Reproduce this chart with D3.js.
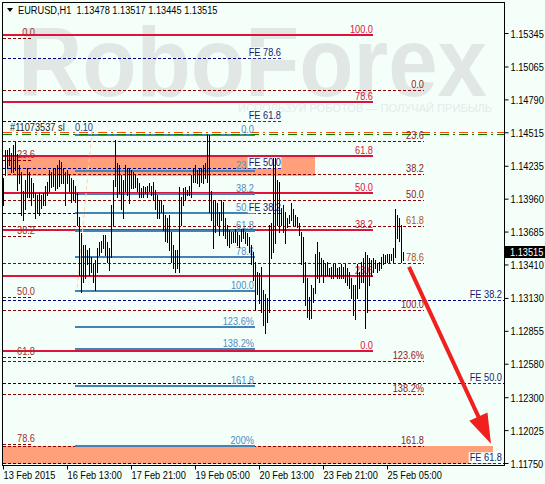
<!DOCTYPE html>
<html><head><meta charset="utf-8">
<script src="https://cdn.jsdelivr.net/npm/d3@7"></script>
<style>
html,body{margin:0;padding:0;background:#f5fffa;}
svg{display:block;}
text{font-family:'Liberation Sans',Arial,sans-serif;font-size:11px;}
</style></head><body>
<svg id="c" width="545" height="484"></svg>
<script>
// ---------- DATA ----------
const symbol = "EURUSD,H1";
const ohlcLast = [1.13478, 1.13517, 1.13445, 1.13515];
const lastPrice = 1.13515;

const highs = [
1.1413,1.1437,1.1437,1.1438,1.1434,1.1441,1.1443,1.1433,1.1424,1.1418,
1.1402,1.1412,1.1422,1.1418,1.1413,1.1409,1.1401,1.1399,1.1401,1.1399,
1.1401,1.1407,1.1410,1.1420,1.1418,1.1422,1.1422,1.1424,1.1428,1.1427,
1.1422,1.1418,1.1420,1.1416,1.1413,1.1412,1.1407,1.1401,1.1381,1.1367,
1.1357,1.1357,1.1353,1.1355,1.1347,1.1341,1.1345,1.1355,1.1360,1.1361,
1.1366,1.1366,1.1360,1.1355,1.1391,1.1412,1.1445,1.1426,1.1424,1.1416,
1.1412,1.1424,1.1422,1.1422,1.1420,1.1418,1.1417,1.1413,1.1409,1.1405,
1.1407,1.1406,1.1407,1.1409,1.1407,1.1410,1.1403,1.1399,1.1395,1.1395,
1.1391,1.1382,1.1380,1.1382,1.1368,1.1357,1.1353,1.1353,1.1406,1.1397,
1.1405,1.1406,1.1403,1.1407,1.1416,1.1422,1.1424,1.1420,1.1422,1.1422,
1.1424,1.1426,1.1449,1.1449,1.1402,1.1395,1.1395,1.1392,1.1385,1.1395,
1.1393,1.1380,1.1374,1.1370,1.1368,1.1368,1.1371,1.1368,1.1366,1.1371,
1.1371,1.1368,1.1367,1.1364,1.1357,1.1351,1.1343,1.1335,1.1334,1.1339,
1.1320,1.1316,1.1313,1.1374,1.1376,1.1430,1.1430,1.1412,1.1410,1.1388,
1.1391,1.1385,1.1380,1.1382,1.1392,1.1387,1.1382,1.1381,1.1376,1.1368,
1.1364,1.1343,1.1330,1.1314,1.1324,1.1321,1.1350,1.1360,1.1351,1.1346,
1.1345,1.1341,1.1343,1.1338,1.1339,1.1341,1.1341,1.1338,1.1339,1.1341,
1.1339,1.1341,1.1338,1.1335,1.1330,1.1324,1.1324,1.1341,1.1335,1.1343,
1.1346,1.1351,1.1349,1.1346,1.1345,1.1346,1.1345,1.1342,1.1343,1.1347,
1.1350,1.1349,1.1350,1.1350,1.1350,1.1355,1.1387,1.1382,1.1380,1.1374,
1.13517];
const lows = [
1.1391,1.1416,1.1422,1.1424,1.1418,1.1418,1.1420,1.1403,1.1409,1.1382,
1.1378,1.1387,1.1397,1.1397,1.1391,1.1397,1.1380,1.1384,1.1382,1.1388,
1.1391,1.1391,1.1399,1.1402,1.1406,1.1407,1.1403,1.1405,1.1407,1.1409,
1.1409,1.1391,1.1409,1.1402,1.1393,1.1395,1.1393,1.1374,1.1332,1.1318,
1.1326,1.1330,1.1341,1.1332,1.1335,1.1326,1.1320,1.1335,1.1349,1.1351,
1.1355,1.1349,1.1343,1.1336,1.1347,1.1374,1.1407,1.1397,1.1401,1.1387,
1.1380,1.1402,1.1399,1.1392,1.1405,1.1405,1.1406,1.1402,1.1397,1.1397,
1.1397,1.1401,1.1397,1.1402,1.1399,1.1395,1.1387,1.1380,1.1380,1.1385,
1.1370,1.1361,1.1360,1.1353,1.1343,1.1338,1.1335,1.1338,1.1335,1.1374,
1.1391,1.1395,1.1399,1.1399,1.1397,1.1410,1.1410,1.1409,1.1407,1.1410,
1.1409,1.1413,1.1410,1.1385,1.1378,1.1355,1.1368,1.1374,1.1366,1.1378,
1.1366,1.1363,1.1357,1.1356,1.1359,1.1360,1.1360,1.1357,1.1356,1.1361,
1.1363,1.1359,1.1357,1.1351,1.1341,1.1328,1.1303,1.1316,1.1309,1.1301,
1.1290,1.1284,1.1293,1.1301,1.1346,1.1351,1.1359,1.1374,1.1368,1.1374,
1.1368,1.1359,1.1372,1.1376,1.1378,1.1374,1.1374,1.1372,1.1366,1.1341,
1.1326,1.1307,1.1297,1.1295,1.1296,1.1310,1.1317,1.1330,1.1326,1.1332,
1.1326,1.1331,1.1332,1.1331,1.1330,1.1330,1.1331,1.1330,1.1330,1.1330,
1.1330,1.1326,1.1324,1.1321,1.1313,1.1299,1.1295,1.1313,1.1321,1.1326,
1.1326,1.1288,1.1301,1.1324,1.1331,1.1335,1.1338,1.1335,1.1336,1.1338,
1.1341,1.1342,1.1343,1.1343,1.1345,1.1343,1.1347,1.1363,1.1361,1.1343,
1.13445];

const xTickIdx = [0, 32, 64, 96, 128, 160, 192];
const xTickLabels = ["13 Feb 2015","16 Feb 13:00","17 Feb 21:00","19 Feb 05:00","20 Feb 13:00","23 Feb 21:00","25 Feb 05:00"];
const yTicks = [1.15345,1.15065,1.14790,1.14515,1.14235,1.13960,1.13685,1.13410,1.13130,1.12855,1.12580,1.12300,1.12025,1.11750];

// Fibonacci retracement (solid red)
const redLevels = [1.1533,1.1477,1.1432,1.1401,1.1370,1.1331,1.1269];
const redLabels = ["100.0","78.6","61.8","50.0","38.2","23.6","0.0"];
const redSpan = [0, 185];
// short left fib (dashed)
const leftFibLevels = [1.1530,1.1428,1.1365,1.1314,1.1264,1.1191];
const leftFibLabels = ["0.0","23.6","38.2","50.0","61.8","78.6"];
const leftFibSpan = [0, 14];
// dashed dark-red fib
const dashRedLevels = [1.1487,1.1444,1.1417,1.1395,1.1373,1.1342,1.1303,1.1260,1.1233,1.1189];
const dashRedLabels = ["0.0","23.6","38.2","50.0","61.8","78.6","100.0","123.6%","138.2%","161.8"];
const dashRedColors = ["#8b1a1a","#8b1a1a","#8b1a1a","#8b1a1a","#b0521c","#b0521c","#8b1a1a","#8b1a1a","#8b1a1a","#8b1a1a"];
const dashRedSpan = [0, 210.5];
// blue fib
const blueLevels = [1.1449,1.1419,1.1400,1.1384,1.1369,1.1347,1.1319,1.1289,1.1270,1.1239,1.1189];
const blueLabels = ["0.0","23.6","38.2","50.0","61.8","78.6","100.0","123.6%","138.2%","161.8","200%"];
const blueSpan = [36, 126];
// Fibonacci expansions (navy dashed)
const feALevels = [1.1514,1.1461,1.1422,1.1384];
const feALabels = ["FE 78.6","FE 61.8","FE 50.0","FE 38.2"];
const feASpan = [0, 139];
const feBLevels = [1.1311,1.1242,1.1175];
const feBLabels = ["FE 38.2","FE 50.0","FE 61.8"];
const feBSpan = [0, 250.5];
// order lines
const orderOrange = 1.1452, orderGreen = 1.1450;
const orderText = "#11073537 sl", orderLot = "0.10";
// zones
const zoneTop = {i0: 2, i1: 156, p0: 1.1415, p1: 1.1431};
const zoneBottom = {i0: 0, i1: 245, p0: 1.11742, p1: 1.11892};
// trend line & arrow (bar index, price)
const trendPts = [[44.5, 1.1453], [37, 1.1319]];
const arrowPts = [[203, 1.1339], [244, 1.1191]];

// ---------- DRAW ----------
const svg = d3.select('#c');
const BG = '#f5fffa';
const S = 0.84; // horizontal squeeze for the narrow terminal font
function put(t, xx, yy){
  t.attr('x',0).attr('y',0).attr('transform',`translate(${xx},${yy}) scale(${S},1)`);
  return t;
}
svg.append('rect').attr('width',545).attr('height',484).attr('fill',BG);

const x = d3.scaleLinear().domain([0,200]).range([3,403]);
const y = d3.scaleLinear().domain([1.11750,1.15345]).range([463,33]);
const PL=3, PR=504, PT=3, PB=465;

svg.append('defs').append('clipPath').attr('id','clip')
  .append('rect').attr('x',PL).attr('y',PT).attr('width',PR-PL).attr('height',PB-PT);
const g = svg.append('g').attr('clip-path','url(#clip)');

// watermark
g.append('text').text('RoboForex').attr('x',18).attr('y',96)
  .attr('textLength',469).attr('lengthAdjust','spacingAndGlyphs')
  .style('font-weight','bold').style('font-size','98px').attr('fill','#e0e7e5');
g.append('text').text('ИСПОЛЬЗУЙ РОБОТОВ — ПОЛУЧАЙ ПРИБЫЛЬ').attr('x',238).attr('y',112)
  .attr('textLength',254).attr('lengthAdjust','spacingAndGlyphs')
  .style('font-size','10px').attr('fill','#e4ebea');

// zones
[zoneTop, zoneBottom].forEach(z => {
  g.append('rect').attr('x',x(z.i0)).attr('width',x(z.i1)-x(z.i0))
   .attr('y',y(z.p1)).attr('height',y(z.p0)-y(z.p1)).attr('fill','#ffa07a');
});

function hline(p, span, color, w, dash){
  const yy = w%2===1 ? Math.round(y(p))+0.5 : Math.round(y(p));
  const l = g.append('line').attr('x1',x(span[0])).attr('x2',x(span[1]))
    .attr('y1',yy).attr('y2',yy).attr('stroke',color).attr('stroke-width',w);
  if(dash) l.attr('stroke-dasharray',dash);
  return yy;
}

dashRedLevels.forEach(p => hline(p, dashRedSpan, '#8b0000', 1, '3,2'));
leftFibLevels.forEach(p => hline(p, leftFibSpan, '#8b0000', 1, '3,2'));
feALevels.forEach(p => hline(p, feASpan, '#000080', 1, '3,2'));
feBLevels.forEach(p => hline(p, feBSpan, '#000080', 1, '3,2'));
redLevels.forEach(p => hline(p, redSpan, '#dc143c', 2));
blueLevels.forEach(p => hline(p, blueSpan, '#4682b4', 2));
hline(orderOrange, feBSpan, '#ff4500', 1, '9,4,2,4');
const gl = hline(orderGreen, feBSpan, '#008000', 1, '9,4,2,4');

// trend line
g.append('line').attr('x1',x(trendPts[0][0])).attr('y1',y(trendPts[0][1]))
  .attr('x2',x(trendPts[1][0])).attr('y2',y(trendPts[1][1]))
  .attr('stroke','#ffd2a8').attr('stroke-width',1).attr('stroke-dasharray','4,3');

// labels
function label(txt, xx, yy, color, anchor, parent){
  const t = (parent||g).append('text').text(txt).attr('fill',color).attr('text-anchor',anchor||'end');
  return put(t, xx, yy);
}
redLevels.forEach((p,i) => label(redLabels[i], x(redSpan[1]), Math.round(y(p))-2, '#dc143c'));
leftFibLevels.forEach((p,i) => label(leftFibLabels[i], x(leftFibSpan[1])+4, Math.round(y(p))-2, '#a0302a'));
dashRedLevels.forEach((p,i) => label(dashRedLabels[i], x(dashRedSpan[1]), Math.round(y(p))-2, dashRedColors[i]));
blueLevels.forEach((p,i) => label(blueLabels[i], x(blueSpan[1])-1, Math.round(y(p))-2, '#4f8cc0'));
function feLabel(txt, xx, yy){
  const t = label(txt, xx, yy, '#1a1a70');
  const bb = t.node().getBBox();
  g.insert('rect', () => t.node()).attr('x',xx+bb.x*S-1).attr('y',yy+bb.y+1)
    .attr('width',bb.width*S+1).attr('height',bb.height-1).attr('fill',BG);
}
feALevels.forEach((p,i) => feLabel(feALabels[i], x(feASpan[1]), Math.round(y(p))-2));
feBLevels.forEach((p,i) => feLabel(feBLabels[i], PR-2, Math.round(y(p))-2));
label(orderText, x(3.5), gl-4, '#222', 'start');
label(orderLot, x(blueSpan[0]), gl-4, '#1a3a8a', 'start');

// bars
const bars = g.append('g');
highs.forEach((h,i) => {
  const xx = Math.round(x(i))+0.5;
  bars.append('line').attr('x1',xx).attr('x2',xx)
    .attr('y1',Math.round(y(h))).attr('y2',Math.round(y(lows[i]))+1)
    .attr('stroke','#000').attr('stroke-width',1);
});

// arrow
(function(){
  const x0=x(arrowPts[0][0]), y0=y(arrowPts[0][1]), x1=x(arrowPts[1][0]), y1=y(arrowPts[1][1]);
  const dx=x1-x0, dy=y1-y0, len=Math.hypot(dx,dy), ux=dx/len, uy=dy/len;
  const hl=30, hw=10;
  const bx=x1-ux*hl, by=y1-uy*hl;
  g.append('line').attr('x1',x0).attr('y1',y0).attr('x2',bx+ux*2).attr('y2',by+uy*2)
    .attr('stroke','#f0201e').attr('stroke-width',4);
  g.append('path').attr('d',`M${x1},${y1}L${bx-uy*hw},${by+ux*hw}L${bx+uy*hw},${by-ux*hw}Z`)
    .attr('fill','#f0201e');
})();

// frame
svg.append('rect').attr('x',2.5).attr('y',2.5).attr('width',502).attr('height',463)
  .attr('fill','none').attr('stroke','#000').attr('stroke-width',1);

// right axis
const ya = svg.append('g').attr('transform',`translate(${PR+0.5},0)`)
  .call(d3.axisRight(y).tickValues(yTicks).tickSize(4).tickPadding(2).tickFormat(d3.format('.5f')));
ya.select('.domain').remove();
ya.selectAll('text').each(function(){
  const t = d3.select(this);
  t.attr('dy',null).style('font-size','11px').style('font-family',"'Liberation Sans',Arial,sans-serif").attr('fill','#000');
  put(t, 6, 4);
});
ya.selectAll('line').attr('stroke','#000');

// bottom axis
const xa = svg.append('g').attr('transform',`translate(0,${PB+0.5})`)
  .call(d3.axisBottom(x).tickValues(xTickIdx).tickSize(4).tickFormat((d,i)=>xTickLabels[i]));
xa.select('.domain').remove();
xa.selectAll('text').each(function(){
  const t = d3.select(this);
  t.attr('dy',null).attr('text-anchor','start').style('font-size','11px')
   .style('font-family',"'Liberation Sans',Arial,sans-serif").attr('fill','#000');
  put(t, 0, 13);
});
xa.selectAll('line').attr('stroke','#000');

// current price box
const cy = Math.round(y(lastPrice));
svg.append('rect').attr('x',PR+1).attr('y',cy-6).attr('width',40).attr('height',12).attr('fill','#000');
label(d3.format('.5f')(lastPrice), PR+6, cy+4, '#fff', 'start', svg);

// header
svg.append('path').attr('d','M7,8L13,8L10,12Z').attr('fill','#000');
label(symbol + '\u00a0\u00a0' + ohlcLast.map(d3.format('.5f')).join(' '), 18, 14, '#000', 'start', svg);
</script>
</body></html>
